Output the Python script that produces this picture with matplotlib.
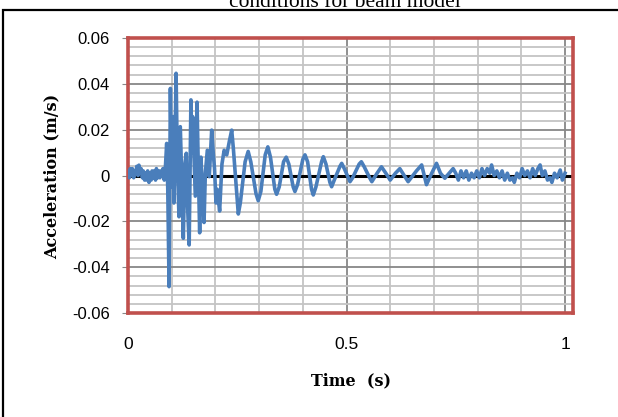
# acceleration response, beam model

import numpy as np
import matplotlib.pyplot as plt
from matplotlib.patches import Rectangle
from matplotlib.ticker import MultipleLocator

# quiet part before impact
onset_t = [0.000, 0.003, 0.005, 0.008, 0.010, 0.013, 0.015, 0.018, 0.020, 0.023,
           0.025, 0.028, 0.030, 0.033, 0.035, 0.038, 0.040, 0.043, 0.045, 0.048,
           0.050, 0.053, 0.055, 0.058, 0.060, 0.063, 0.065, 0.068, 0.070, 0.073,
           0.075, 0.078, 0.080, 0.083, 0.086]
onset_a = [0.002, -0.001, 0.003, 0.000, 0.003, -0.001, 0.002, 0.001, 0.004, 0.000,
           0.0045, 0.001, 0.003, -0.001, 0.002, -0.002, 0.001, -0.002, 0.002, -0.003,
           0.001, -0.002, 0.002, -0.001, 0.002, -0.002, 0.003, -0.001, 0.002, -0.001,
           0.002, 0.000, 0.003, -0.002, 0.005]

# impact burst
burst_t = [0.0885, 0.091, 0.094, 0.097, 0.100, 0.1037, 0.105, 0.107, 0.110, 0.113,
           0.1167, 0.1197, 0.123, 0.1266, 0.130, 0.1334, 0.136, 0.140, 0.144, 0.146,
           0.148, 0.151, 0.154, 0.158, 0.161, 0.164, 0.167, 0.170, 0.174, 0.177,
           0.1815, 0.186, 0.1915, 0.195, 0.198, 0.2014, 0.204, 0.2097, 0.215, 0.220,
           0.226, 0.232]
burst_a = [0.014, -0.006, -0.0485, 0.038, -0.005, 0.0257, -0.012, 0.006, 0.0446, 0.005,
           -0.018, 0.0213, -0.002, -0.0274, 0.005, 0.0097, -0.012, -0.0303, 0.033, 0.010,
           0.0257, 0.008, -0.009, 0.032, 0.002, -0.025, 0.008, -0.005, -0.0205, 0.001,
           0.011, -0.0005, 0.0198, 0.010, 0.003, -0.012, -0.006, -0.0155, 0.005, 0.011,
           0.009, 0.015]

# free decay
decay_t = [0.2373, 0.241, 0.2524, 0.257, 0.268, 0.275, 0.281, 0.293, 0.298, 0.304,
           0.314, 0.320, 0.326, 0.336, 0.340, 0.346, 0.356, 0.362, 0.368, 0.378,
           0.382, 0.388, 0.400, 0.405, 0.411, 0.420, 0.424, 0.430, 0.443, 0.447,
           0.453, 0.462, 0.466, 0.472, 0.485, 0.489, 0.495, 0.504, 0.508, 0.514,
           0.529, 0.534, 0.540, 0.553, 0.558, 0.570, 0.580, 0.590, 0.600, 0.612,
           0.622, 0.632, 0.641, 0.660, 0.672, 0.683, 0.695, 0.706, 0.715, 0.725,
           0.735, 0.744]
decay_a = [0.0198, 0.012, -0.0168, -0.012, 0.006, 0.0105, 0.006, -0.008, -0.011, -0.007,
           0.009, 0.0125, 0.008, -0.006, -0.0082, -0.005, 0.006, 0.008, 0.005, -0.005,
           -0.007, -0.004, 0.007, 0.009, 0.006, -0.006, -0.0085, -0.005, 0.006, 0.0082,
           0.005, -0.003, -0.0049, -0.002, 0.004, 0.0053, 0.003, -0.001, -0.0027, -0.001,
           0.005, 0.006, 0.004, -0.001, -0.0027, 0.001, 0.0038, 0.001, -0.002, 0.001,
           0.003, 0.000, -0.0027, 0.002, 0.0046, -0.004, 0.001, 0.0053, 0.001, -0.0012,
           0.001, 0.003]

# residual noise
tail_t = [0.750, 0.756, 0.762, 0.768, 0.774, 0.780, 0.786, 0.792, 0.798, 0.804,
          0.810, 0.816, 0.822, 0.828, 0.832, 0.838, 0.844, 0.850, 0.856, 0.862,
          0.868, 0.874, 0.880, 0.884, 0.890, 0.896, 0.902, 0.908, 0.914, 0.920,
          0.926, 0.932, 0.938, 0.943, 0.948, 0.954, 0.960, 0.966, 0.970, 0.976,
          0.982, 0.989, 0.994, 1.000]
tail_a = [0.001, -0.002, 0.002, -0.001, 0.002, -0.002, 0.001, -0.001, 0.002, -0.001,
          0.003, 0.000, 0.003, 0.001, 0.0046, 0.000, 0.002, -0.001, 0.002, -0.002,
          0.001, -0.002, -0.001, -0.003, 0.001, -0.001, 0.003, 0.000, 0.002, -0.001,
          0.003, 0.000, 0.003, 0.0046, 0.000, 0.002, -0.002, -0.001, -0.003, 0.001,
          -0.001, 0.0024, -0.002, 0.001]

time = np.array(onset_t + burst_t + decay_t + tail_t)
accel = np.array(onset_a + burst_a + decay_a + tail_a)

red = '#C0504D'
blue = '#4A7EBB'

fig = plt.figure(figsize=(6.18, 4.17), dpi=100)
ax = fig.add_axes([128 / 618, 1 - 313 / 417, 445 / 618, 275 / 417])

ax.set_xlim(0, 445 / 437)
ax.set_ylim(-0.06, 0.06)
ax.xaxis.set_major_locator(MultipleLocator(0.5))
ax.xaxis.set_minor_locator(MultipleLocator(0.1))
ax.yaxis.set_major_locator(MultipleLocator(0.02))
ax.yaxis.set_minor_locator(MultipleLocator(0.004))

ax.grid(which='minor', color='#C4C4C4', lw=1.3)
ax.grid(which='major', color='#878787', lw=1.3)
ax.set_axisbelow(True)

ax.axhline(0, color='black', lw=2.2, zorder=2)
ax.plot(time, accel, color=blue, lw=2.6, zorder=3)

for s in ax.spines.values():
    s.set_color(red)
    s.set_linewidth(2.6)

ax.tick_params(axis='y', which='major', length=4, color='#888888',
               labelsize=12, pad=9)
ax.tick_params(axis='y', which='minor', length=0)
ax.tick_params(axis='x', which='both', length=0, labelsize=12.5, pad=17)
ax.set_xticks([0, 0.5, 1])
ax.set_xticklabels(['0', '0.5', '1'])
ax.set_yticks([-0.06, -0.04, -0.02, 0, 0.02, 0.04, 0.06])
ax.set_yticklabels(['-0.06', '-0.04', '-0.02', '0', '0.02', '0.04', '0.06'])
for lab in ax.get_xticklabels() + ax.get_yticklabels():
    lab.set_family('Liberation Sans')

fig.text(351 / 618, 1 - 381 / 417, 'Time  (s)', ha='center', va='center',
         family='DejaVu Serif', weight='bold', fontsize=11.5)
fig.text(52 / 618, 1 - 176 / 417, 'Acceleration (m/s)', ha='center', va='center',
         rotation=90, family='DejaVu Serif', weight='bold', fontsize=11.5)
fig.text(345 / 618, 1 - 7 / 417, 'conditions for beam model', ha='center',
         va='baseline', family='Liberation Serif', fontsize=15.5)

fig.patches.append(Rectangle((3 / 618, -0.05), 1.2, 1 - 10 / 417 + 0.05,
                             transform=fig.transFigure, fill=False,
                             edgecolor='black', lw=1.6))

fig.savefig('out.png', dpi=100)
